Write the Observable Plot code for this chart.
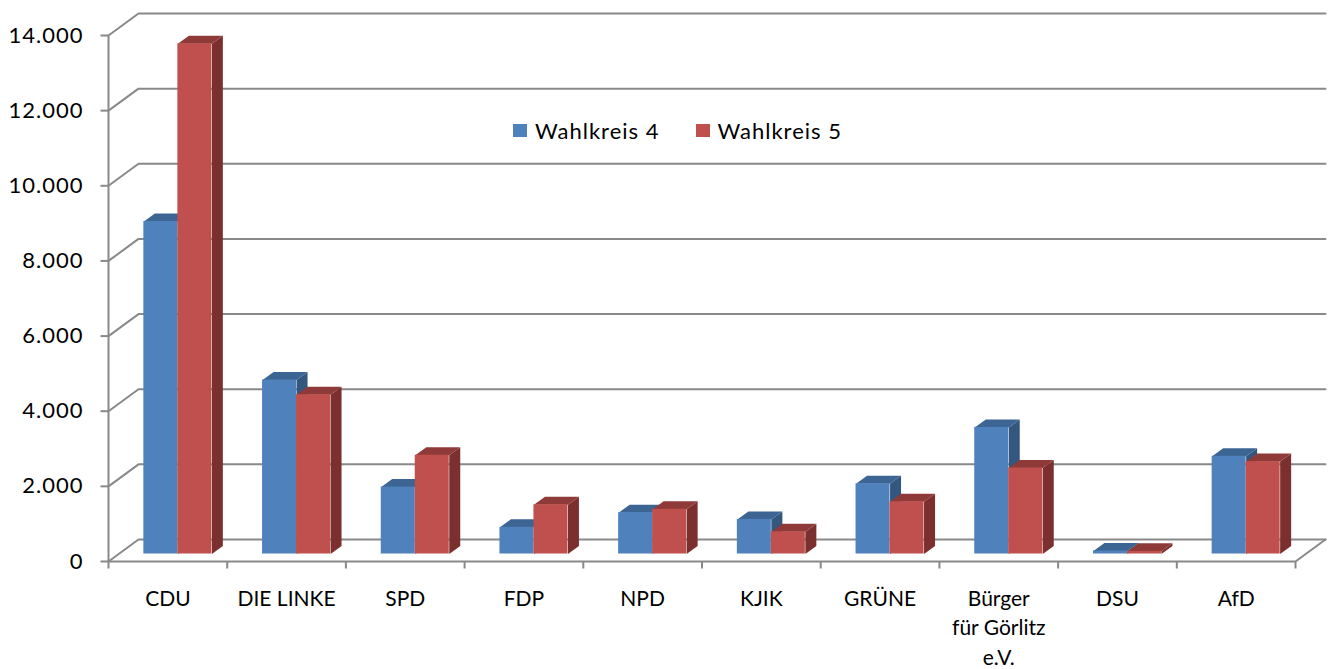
<!DOCTYPE html>
<html>
<head>
<meta charset="utf-8">
<script src="https://cdn.jsdelivr.net/npm/d3@7"></script>
<script src="https://cdn.jsdelivr.net/npm/@observablehq/plot@0.6"></script>
<style>
  html, body { margin: 0; padding: 0; background: #fff; }
  #wrap { position: relative; width: 1331px; height: 669px; font-family: Lato, "Open Sans", sans-serif; }
  #legend { position: absolute; left: 513px; top: 117px; display: flex; align-items: center; font-size: 22px; letter-spacing: 1px; color: #000; }
  #legend .sw { display: inline-block; width: 14px; height: 13px; margin-right: 8px; }
  #legend .item { display: flex; align-items: center; margin-right: 36px; }
</style>
</head>
<body>
<div id="wrap"><div id="legend"></div></div>
<script>
// ---- data ----
const categories = ["CDU", "DIE LINKE", "SPD", "FDP", "NPD", "KJIK", "GRÜNE", "Bürger\nfür Görlitz\ne.V.", "DSU", "AfD"];
const seriesNames = ["Wahlkreis 4", "Wahlkreis 5"];
const wahlkreis4 = [8850, 4630, 1780, 710, 1100, 920, 1870, 3370, 80, 2600];
const wahlkreis5 = [13580, 4240, 2630, 1310, 1190, 590, 1390, 2290, 70, 2460];
const yTicks = [0, 2000, 4000, 6000, 8000, 10000, 12000, 14000];

// ---- styles ----
const frontColors = ["#4f81bd", "#c0504d"];
const topColors = ["#3d6594", "#8e3a38"];
const sideColors = ["#34577f", "#7b2f2e"];
const gridColor = "#898989";

// ---- layout ----
const W = 1331, H = 669, ML = 108, MR = 36, MT = 35, MB = 108;
const yMax = 14000, nCat = categories.length;
const PX = (W - ML - MR) / nCat;      // px per category unit
const PY = (H - MT - MB) / yMax;      // px per value unit
const wallDX = 30 / PX, wallDY = 22 / PY;   // back wall depth
const barOX = 10 / PX, barOY = 7.5 / PY;    // bar front offset into the floor
const bdx = 11 / PX, bdy = 8 / PY;          // bar depth
const bw = 34 / PX;                          // bar width
const gap = (1 - 2 * bw) / 2;

const fmt = d3.formatLocale({decimal: ",", thousands: ".", grouping: [3], currency: ["", "€"]}).format(",");

const series = [wahlkreis4, wahlkreis5];

// gridlines on back wall (with diagonal on the left side wall)
const gridPts = yTicks.flatMap(t => [
  {id: t, x: 0, y: t},
  {id: t, x: wallDX, y: t + wallDY},
  {id: t, x: nCat + wallDX, y: t + wallDY}
]);

function faces(s) {
  const vals = series[s];
  const fronts = [], tops = [], sides = [];
  vals.forEach((v, i) => {
    const x1 = i + gap + s * bw + barOX, x2 = x1 + bw;
    const y1 = barOY, y2 = v + barOY;
    fronts.push({x1, x2, y1, y2});
    tops.push(
      {id: i, x: x1, y: y2}, {id: i, x: x2, y: y2},
      {id: i, x: x2 + bdx, y: y2 + bdy}, {id: i, x: x1 + bdx, y: y2 + bdy}
    );
    sides.push(
      {id: i, x: x2, y: y1}, {id: i, x: x2, y: y2},
      {id: i, x: x2 + bdx, y: y2 + bdy}, {id: i, x: x2 + bdx, y: y1 + bdy}
    );
  });
  return {fronts, tops, sides};
}

const barMarks = [0, 1].flatMap(s => {
  const f = faces(s);
  return [
    Plot.line(f.sides, {x: "x", y: "y", z: "id", fill: sideColors[s], stroke: "none"}),
    Plot.line(f.tops, {x: "x", y: "y", z: "id", fill: topColors[s], stroke: "none"}),
    Plot.rect(f.fronts, {x1: "x1", x2: "x2", y1: "y1", y2: "y2", fill: frontColors[s]})
  ];
});

const catIdx = d3.range(nCat);
const bounds = d3.range(nCat + 1);

const chart = Plot.plot({
  width: W, height: H,
  marginLeft: ML, marginRight: MR, marginTop: MT, marginBottom: MB,
  x: {domain: [0, nCat], axis: null},
  y: {domain: [0, yMax], axis: null},
  style: {fontFamily: "Lato, 'Open Sans', sans-serif", fontSize: "21px", color: "#000", background: "#fff"},
  marks: [
    // back wall gridlines
    Plot.line(gridPts, {x: "x", y: "y", z: "id", stroke: gridColor, strokeWidth: 2}),
    // floor front edge and right edge
    Plot.line([{x: 0, y: 0}, {x: nCat, y: 0}, {x: nCat + wallDX, y: wallDY}], {x: "x", y: "y", stroke: gridColor, strokeWidth: 2}),
    // y axis line
    Plot.ruleX([0], {y1: 0, y2: yMax, stroke: gridColor, strokeWidth: 2}),
    // y tick marks
    Plot.link(yTicks, {x1: -8 / PX, x2: 0, y1: d => d, y2: d => d, stroke: gridColor, strokeWidth: 2}),
    // x tick marks
    Plot.link(bounds, {x1: d => d, x2: d => d, y1: 0, y2: -7 / PY, stroke: gridColor, strokeWidth: 2}),
    // bars
    ...barMarks,
    // y tick labels
    Plot.text(yTicks, {x: 0, y: d => d, text: d => fmt(d), textAnchor: "end", dx: -25, fontSize: 22, fill: "#000"}),
    // x labels
    Plot.text(catIdx, {x: d => d + 0.5, y: 0, text: d => categories[d], lineAnchor: "top", dy: 23, lineHeight: 1.42, fontSize: 21, fill: "#000"})
  ]
});

document.getElementById("wrap").prepend(chart);
chart.style.position = "absolute";
chart.style.left = "0";
chart.style.top = "0";
// slightly wider letter spacing for the y tick labels (Calibri-like width)
chart.querySelectorAll("text").forEach(t => {
  if (/^[\d.]+$/.test(t.textContent)) t.setAttribute("letter-spacing", "1");
});

const legend = document.getElementById("legend");
seriesNames.forEach((name, s) => {
  const item = document.createElement("span");
  item.className = "item";
  const sw = document.createElement("span");
  sw.className = "sw";
  sw.style.background = frontColors[s];
  item.appendChild(sw);
  item.appendChild(document.createTextNode(name));
  legend.appendChild(item);
});
</script>
</body>
</html>
